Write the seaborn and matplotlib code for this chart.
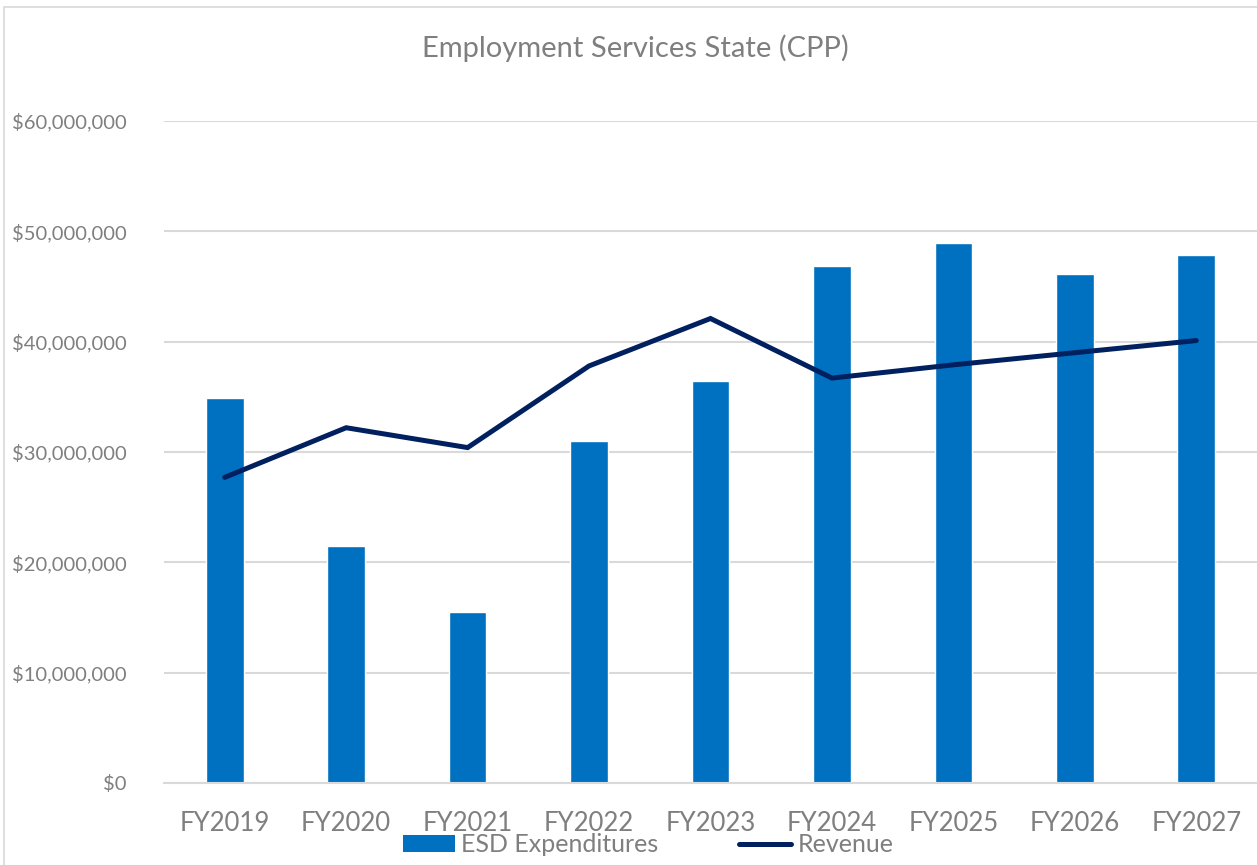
import numpy as np
import pandas as pd
import matplotlib
matplotlib.use("Agg")
import matplotlib.pyplot as plt
import seaborn as sns
from matplotlib.patches import Patch, Rectangle
from matplotlib.lines import Line2D
from matplotlib.ticker import FuncFormatter, MultipleLocator

# Fiscal years and dollar amounts
years = ["FY2019", "FY2020", "FY2021", "FY2022", "FY2023",
         "FY2024", "FY2025", "FY2026", "FY2027"]
esd_expenditures = [34.9e6, 21.5e6, 15.5e6, 31.0e6, 36.4e6,
                    46.9e6, 48.9e6, 46.1e6, 47.9e6]
revenue = [27.7e6, 32.2e6, 30.4e6, 37.8e6, 42.1e6,
           36.7e6, 37.9e6, 39.0e6, 40.1e6]

BAR_COLOR = "#0070C0"
LINE_COLOR = "#002060"
TEXT_COLOR = "#7F7F7F"
GRID_COLOR = "#D9D9D9"

sns.set_theme(style="white")
plt.rcParams["font.family"] = ["Lato", "DejaVu Sans"]

df = pd.DataFrame({"year": years, "esd": esd_expenditures, "revenue": revenue})
df["pos"] = np.arange(len(df))

fig = plt.figure(figsize=(12.57, 8.65), dpi=100)
ax = fig.add_axes([164 / 1257, 1 - 783 / 865, (1257 - 164) / 1257, (783 - 121) / 865])

sns.barplot(data=df, x="year", y="esd", color=BAR_COLOR, width=0.31,
            saturation=1, ax=ax, zorder=2)
sns.lineplot(data=df, x="pos", y="revenue", color=LINE_COLOR, linewidth=3.6,
             ax=ax, zorder=3, solid_capstyle="round", solid_joinstyle="miter")

ax.set_xlim(-0.5, len(years) - 0.5)
ax.set_ylim(0, 60e6)
ax.yaxis.set_major_locator(MultipleLocator(10e6))
ax.yaxis.set_major_formatter(FuncFormatter(lambda v, p: f"${v:,.0f}"))
ax.grid(axis="y", color=GRID_COLOR, linewidth=1.5, zorder=0)
ax.set_axisbelow(True)
for side in ["top", "right", "left"]:
    ax.spines[side].set_visible(False)
ax.spines["bottom"].set_color(GRID_COLOR)
ax.spines["bottom"].set_linewidth(1.5)
ax.set_xlabel("")
ax.set_ylabel("")
ax.tick_params(axis="y", labelsize=14.5, labelcolor=TEXT_COLOR, length=0, pad=27)
ax.tick_params(axis="x", labelsize=18.5, labelcolor=TEXT_COLOR, length=0, pad=20)

fig.text(635 / 1257, 1 - 48 / 865, "Employment Services State (CPP)",
         ha="center", va="center", fontsize=21, color=TEXT_COLOR)

handles = [Patch(facecolor=BAR_COLOR, edgecolor="none", label="ESD Expenditures"),
           Line2D([0], [0], color=LINE_COLOR, linewidth=3.6, solid_capstyle="round",
                  label="Revenue")]
fig.legend(handles=handles, loc="center", bbox_to_anchor=(648 / 1257, 1 - 845 / 865),
           ncol=2, frameon=False, fontsize=18, labelcolor=TEXT_COLOR,
           handlelength=2.1, handleheight=0.65, handletextpad=0.25,
           columnspacing=3.2, borderpad=0.1)

# Chart-area border
fig.patches.append(Rectangle((4 / 1257, -0.01), 1.0, 1 - 7 / 865 + 0.01,
                             transform=fig.transFigure, fill=False,
                             edgecolor=GRID_COLOR, linewidth=1.2))

fig.savefig("out.png", dpi=100, facecolor="white")
